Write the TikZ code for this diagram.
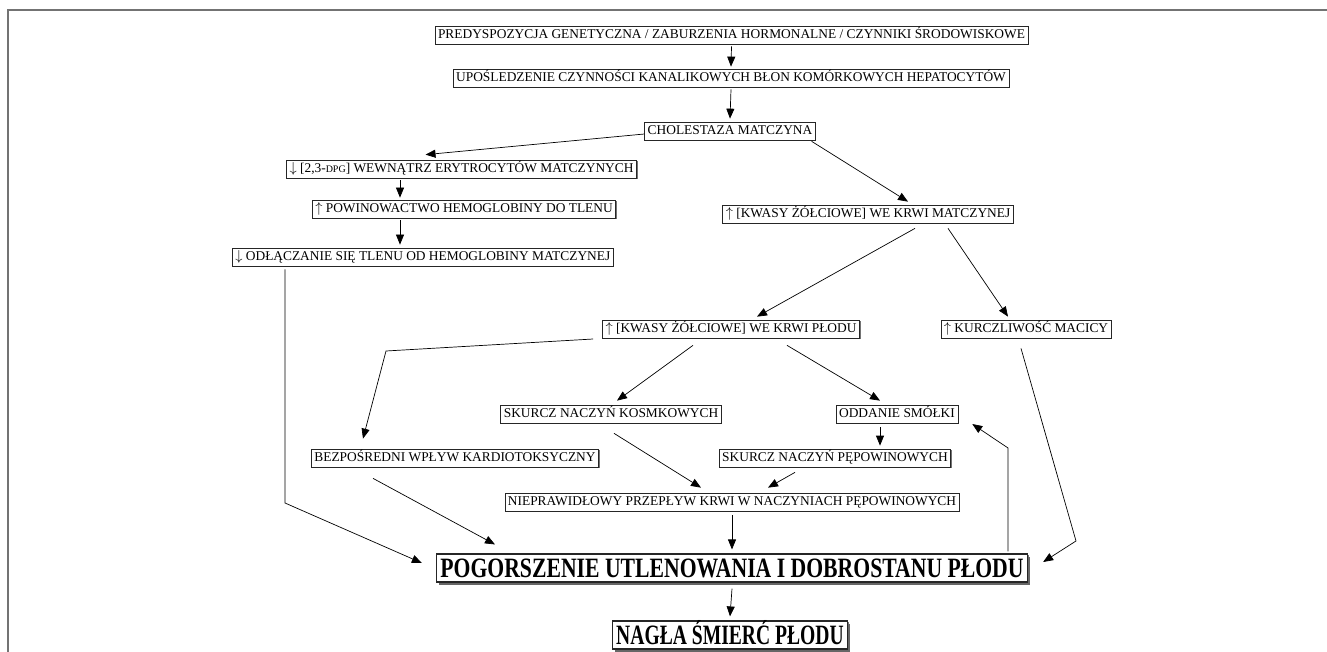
\documentclass[tikz,border=0pt]{standalone}
\usepackage{fontspec}
\usepackage{graphicx}
\setmainfont{Liberation Serif}
\usetikzlibrary{arrows.meta,shadows}
\newcommand{\bigtext}[2]{\scalebox{#1}[1]{\fontsize{28}{28}\selectfont\bfseries #2}}
\newcommand{\up}{$\uparrow$}
\newcommand{\down}{$\downarrow$}
\begin{document}
\begin{tikzpicture}[x=1pt, y=-1pt,
                    box/.style={draw=black!85, line width=0.7pt, fill=white,
                      font=\fontsize{13.4}{13.4}\selectfont, inner xsep=3pt, inner ysep=3pt,
                      text height=9.5pt, text depth=2.5pt,
                      drop shadow={shadow xshift=1.2pt, shadow yshift=-1.2pt, fill=black!55, opacity=1}},
                    bigbox/.style={box, line width=1.1pt, inner xsep=4pt, inner ysep=3pt,
                      text height=20pt, text depth=2pt,
                      drop shadow={shadow xshift=2.5pt, shadow yshift=-2.5pt, fill=black!60, opacity=1}},
                    arr/.style={-{Triangle[length=10pt, width=8pt]}, line width=0.7pt}]
  \useasboundingbox (0,0) rectangle (1327,652);
  \draw[black!55, line width=1.6pt] (8,652) -- (8,10) -- (1330,10);

  \node[box] (gen) at (731.5,35) {PREDYSPOZYCJA GENETYCZNA / ZABURZENIA HORMONALNE / CZYNNIKI ŚRODOWISKOWE};
  \node[box] (kanal) at (731,78) {UPOŚLEDZENIE CZYNNOŚCI KANALIKOWYCH BŁON KOMÓRKOWYCH HEPATOCYTÓW};
  \node[box] (chol) at (730,131) {CHOLESTAZA MATCZYNA};
  \node[box] (dpg) at (461.5,169) {\down{} [2,3-{\fontsize{10}{10}\selectfont DPG}] WEWNĄTRZ ERYTROCYTÓW MATCZYNYCH};
  \node[box] (powin) at (464,209) {\up{} POWINOWACTWO HEMOGLOBINY DO TLENU};
  \node[box, anchor=west] (odlacz) at (232,257) {\down{} ODŁĄCZANIE SIĘ TLENU OD HEMOGLOBINY MATCZYNEJ};
  \node[box] (kwasm) at (868,214) {\up{} [KWASY ŻÓŁCIOWE] WE KRWI MATCZYNEJ};
  \node[box] (kwasp) at (731,329) {\up{} [KWASY ŻÓŁCIOWE] WE KRWI PŁODU};
  \node[box] (macica) at (1026,329) {\up{} KURCZLIWOŚĆ MACICY};
  \node[box] (kosm) at (611,414) {SKURCZ NACZYŃ KOSMKOWYCH};
  \node[box] (smolka) at (897,414) {ODDANIE SMÓŁKI};
  \node[box] (pepow) at (835,458) {SKURCZ NACZYŃ PĘPOWINOWYCH};
  \node[box] (kardio) at (455,458) {BEZPOŚREDNI WPŁYW KARDIOTOKSYCZNY};
  \node[box] (przep) at (732,502) {NIEPRAWIDŁOWY PRZEPŁYW KRWI W NACZYNIACH PĘPOWINOWYCH};
  \node[bigbox] (pogor) at (732,568) {\bigtext{0.775}{POGORSZENIE UTLENOWANIA I DOBROSTANU PŁODU}};
  \node[bigbox] (smierc) at (730,635) {\bigtext{0.70}{NAGŁA ŚMIERĆ PŁODU}};

  \coordinate (c1) at (285,503);
  \coordinate (c2) at (386,351);
  \coordinate (c3) at (1008,448);
  \coordinate (c4) at (1076,541);

  \draw[arr] ([yshift=-2pt]gen.south) -- ([yshift=2pt]kanal.north);
  \draw[arr] ([yshift=-2pt]kanal.south) -- ([yshift=3pt]chol.north);
  \draw[arr] ([yshift=-3pt]chol.west) -- ([xshift=-36pt, yshift=5pt]dpg.north);
  \draw[arr] ([xshift=-4pt, yshift=-1pt]chol.south east) -- ([xshift=40pt, yshift=3pt]kwasm.north);
  \draw[arr] ([xshift=-61.5pt, yshift=-2pt]dpg.south) -- ([xshift=-64pt, yshift=2pt]powin.north);
  \draw[arr] ([xshift=-64pt, yshift=-2pt]powin.south) -- ([xshift=-64pt, yshift=3pt]powin.south |- odlacz.north);
  \draw[arr] ([yshift=-3pt]c1 |- odlacz.south) -- (c1) -- ([xshift=-14pt, yshift=5pt]pogor.west);
  \draw[arr] ([xshift=47pt, yshift=-5pt]kwasm.south) -- ([xshift=26pt, yshift=3pt]kwasp.north);
  \draw[arr] ([xshift=80pt, yshift=-5pt]kwasm.south) -- ([xshift=-18pt, yshift=3pt]macica.north);
  \draw[arr] ([xshift=-9pt, yshift=-10pt]kwasp.west) -- (c2) -- ([xshift=-92pt, yshift=10pt]kardio.north);
  \draw[arr] ([xshift=-38pt, yshift=-7pt]kwasp.south) -- ([xshift=6pt, yshift=4pt]kosm.north);
  \draw[arr] ([xshift=56pt, yshift=-7pt]kwasp.south) -- ([xshift=-17pt, yshift=4pt]smolka.north);
  \draw[arr] ([xshift=-17pt, yshift=-4pt]smolka.south) -- ([xshift=45pt, yshift=3pt]pepow.north);
  \draw[arr] ([xshift=-40pt, yshift=-5pt]pepow.south) -- ([xshift=36pt, yshift=5pt]przep.north);
  \draw[arr] ([xshift=3pt, yshift=-10pt]kosm.south) -- ([xshift=-31pt, yshift=5pt]przep.north);
  \draw[arr] ([xshift=-82pt, yshift=-11pt]kardio.south) -- ([xshift=-237pt, yshift=9pt]pogor.north);
  \draw[arr] ([yshift=-4pt]przep.south) -- ([yshift=4pt]pogor.north);
  \draw[arr] ([yshift=-6pt]pogor.south) -- ([yshift=4pt]smierc.north);
  \draw[arr] ([yshift=2pt]c3 |- pogor.north) -- (c3) -- ([xshift=14pt, yshift=-10pt]smolka.east);
  \draw[arr] ([xshift=-5pt, yshift=-10pt]macica.south) -- (c4) -- ([xshift=15pt, yshift=6pt]pogor.east);
\end{tikzpicture}
\end{document}
